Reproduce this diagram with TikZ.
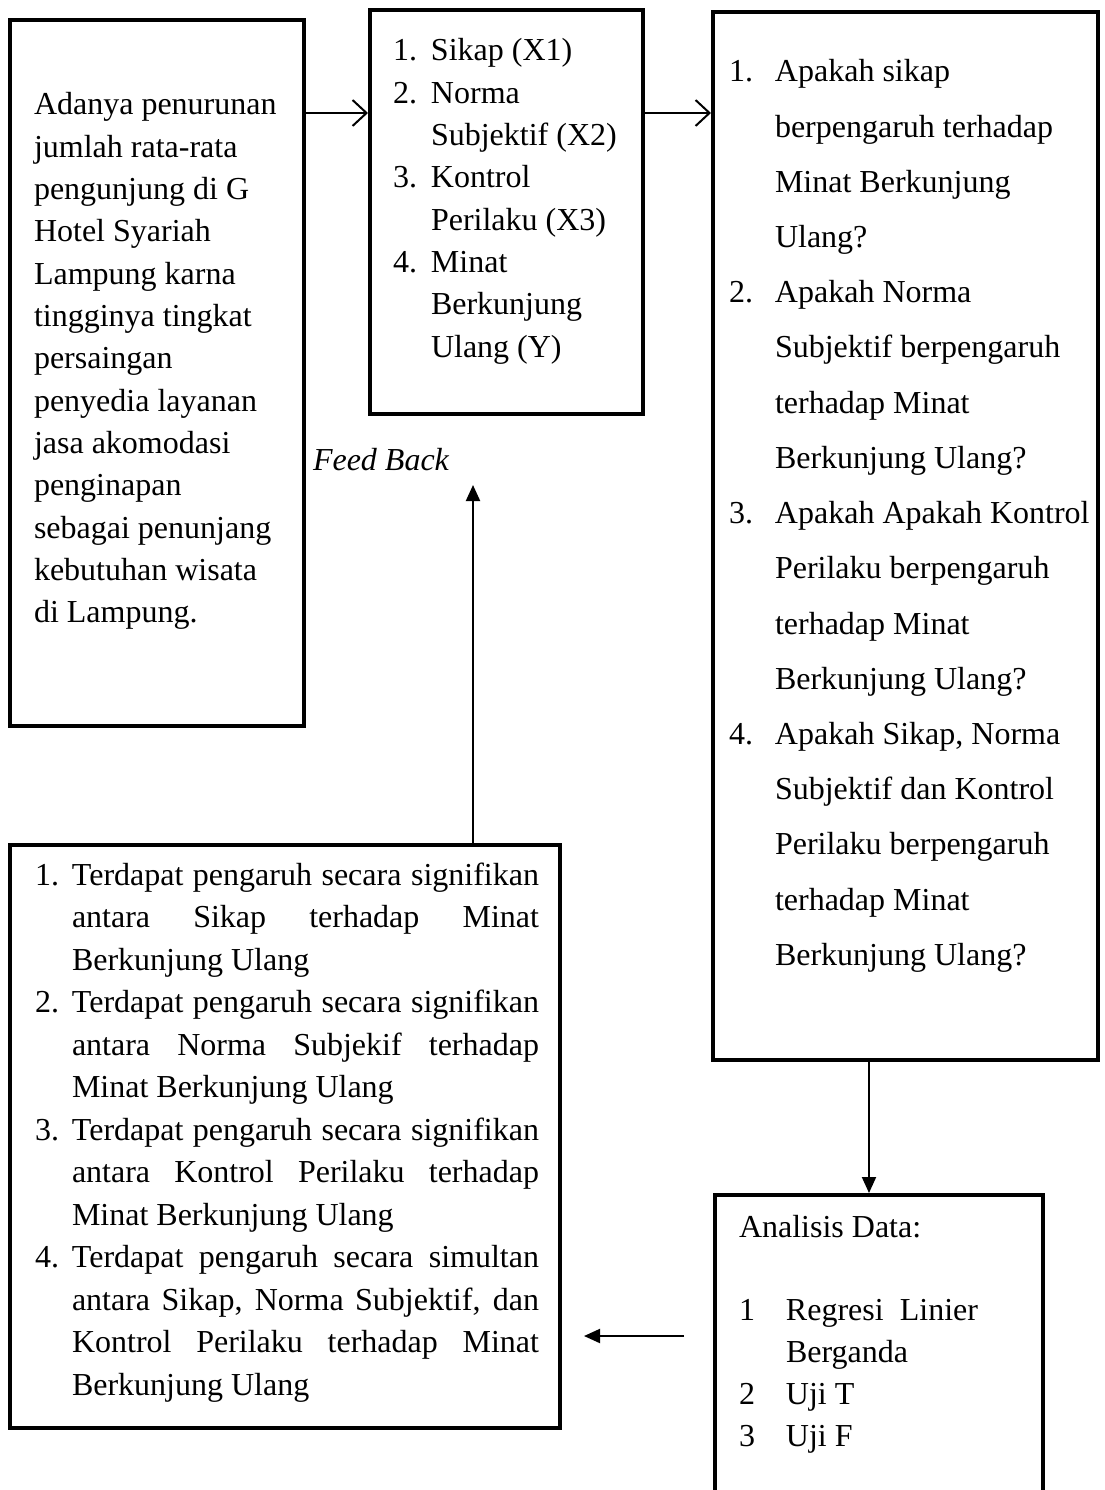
\documentclass[tikz,border=0pt]{standalone}
\usepackage{fontspec}
\setmainfont{Liberation Serif}
\usetikzlibrary{arrows.meta}
\newcommand\lbl[2]{\makebox[#1][l]{#2}}
\newcommand\jl[1]{\makebox[467pt][s]{#1}}
\tikzset{
  box/.style={draw, line width=4pt, inner sep=0pt},
  txt/.style={anchor=base west, inner sep=0pt, outer sep=0pt},
  openarrow/.style={line width=2pt, -{Straight Barb[length=14pt,width=26pt,line width=2pt]}},
  solidarrow/.style={line width=2pt, -{Triangle[length=16pt,width=14pt]}},
}
\begin{document}
\begin{tikzpicture}[x=1pt,y=-1pt]
\useasboundingbox (0,0) rectangle (1104,1490);
\clip (0,0) rectangle (1104,1490);
% boxes
\node[box, minimum width=294pt, minimum height=706pt] (boxA) at (157,373) {};
\node[box, minimum width=273pt, minimum height=404pt] (boxB) at (506.5,212) {};
\node[box, minimum width=385pt, minimum height=1048pt] (boxC) at (905.5,536) {};
\node[box, minimum width=550pt, minimum height=583pt] (boxD) at (285,1136.5) {};
\node[box, minimum width=328pt, minimum height=335pt] (boxE) at (879,1362.5) {};
% texts
\node[txt] (tA) at (34,115) {\parbox[t]{270pt}{\fontsize{32}{42.3}\selectfont\raggedright
Adanya penurunan\\
jumlah rata-rata\\
pengunjung di G\\
Hotel Syariah\\
Lampung karna\\
tingginya tingkat\\
persaingan\\
penyedia layanan\\
jasa akomodasi\\
penginapan\\
sebagai penunjang\\
kebutuhan wisata\\
di Lampung.}};
\node[txt] (tB) at (393,61) {\parbox[t]{250pt}{\fontsize{32}{42.3}\selectfont\raggedright
\lbl{38pt}{1.}Sikap (X1)\\
\lbl{38pt}{2.}Norma\\
\hspace*{38pt}Subjektif (X2)\\
\lbl{38pt}{3.}Kontrol\\
\hspace*{38pt}Perilaku (X3)\\
\lbl{38pt}{4.}Minat\\
\hspace*{38pt}Berkunjung\\
\hspace*{38pt}Ulang (Y)}};
\node[txt] (tC) at (729,82) {\parbox[t]{380pt}{\fontsize{32}{55.2}\selectfont\raggedright
\lbl{46pt}{1.}Apakah sikap\\
\hspace*{46pt}berpengaruh terhadap\\
\hspace*{46pt}Minat Berkunjung\\
\hspace*{46pt}Ulang?\\
\lbl{46pt}{2.}Apakah Norma\\
\hspace*{46pt}Subjektif berpengaruh\\
\hspace*{46pt}terhadap Minat\\
\hspace*{46pt}Berkunjung Ulang?\\
\lbl{46pt}{3.}Apakah Apakah Kontrol\\
\hspace*{46pt}Perilaku berpengaruh\\
\hspace*{46pt}terhadap Minat\\
\hspace*{46pt}Berkunjung Ulang?\\
\lbl{46pt}{4.}Apakah Sikap, Norma\\
\hspace*{46pt}Subjektif dan Kontrol\\
\hspace*{46pt}Perilaku berpengaruh\\
\hspace*{46pt}terhadap Minat\\
\hspace*{46pt}Berkunjung Ulang?}};
\node[txt] (tD) at (35,885) {\parbox[t]{520pt}{\fontsize{32}{42.5}\selectfont\raggedright
\lbl{37pt}{1.}\jl{Terdapat pengaruh secara signifikan}\\
\hspace*{37pt}\jl{antara Sikap terhadap Minat}\\
\hspace*{37pt}Berkunjung Ulang\\
\lbl{37pt}{2.}\jl{Terdapat pengaruh secara signifikan}\\
\hspace*{37pt}\jl{antara Norma Subjekif terhadap}\\
\hspace*{37pt}Minat Berkunjung Ulang\\
\lbl{37pt}{3.}\jl{Terdapat pengaruh secara signifikan}\\
\hspace*{37pt}\jl{antara Kontrol Perilaku terhadap}\\
\hspace*{37pt}Minat Berkunjung Ulang\\
\lbl{37pt}{4.}\jl{Terdapat pengaruh secara simultan}\\
\hspace*{37pt}\jl{antara Sikap, Norma Subjektif, dan}\\
\hspace*{37pt}\jl{Kontrol Perilaku terhadap Minat}\\
\hspace*{37pt}Berkunjung Ulang}};
\node[txt] (tE) at (739,1237) {\parbox[t]{300pt}{\fontsize{32}{42}\selectfont\raggedright
Analisis Data:\\[41pt]
\lbl{47pt}{1}\makebox[192pt][s]{Regresi Linier}\\
\hspace*{47pt}Berganda\\
\lbl{47pt}{2}Uji T\\
\lbl{47pt}{3}Uji F}};
\node[txt] (fb) at (313,470) {\fontsize{32}{38}\selectfont\itshape Feed Back};
% connector coordinates
\coordinate (ay) at (0,113);
\coordinate (cx) at (869,0);
\coordinate (fx) at (473,0);
\coordinate (fbtip) at (473,485);
\coordinate (eTail) at (684,1336);
\coordinate (eTip) at (584,1336);
% connectors
\draw[openarrow] (boxA.east |- ay) -- (boxB.west |- ay);
\draw[openarrow] (boxB.east |- ay) -- (boxC.west |- ay);
\draw[solidarrow] (boxC.south -| cx) -- (boxE.north -| cx);
\draw[solidarrow] (boxD.north -| fx) -- (fbtip);
\draw[solidarrow] (eTail) -- (eTip);
\end{tikzpicture}
\end{document}
